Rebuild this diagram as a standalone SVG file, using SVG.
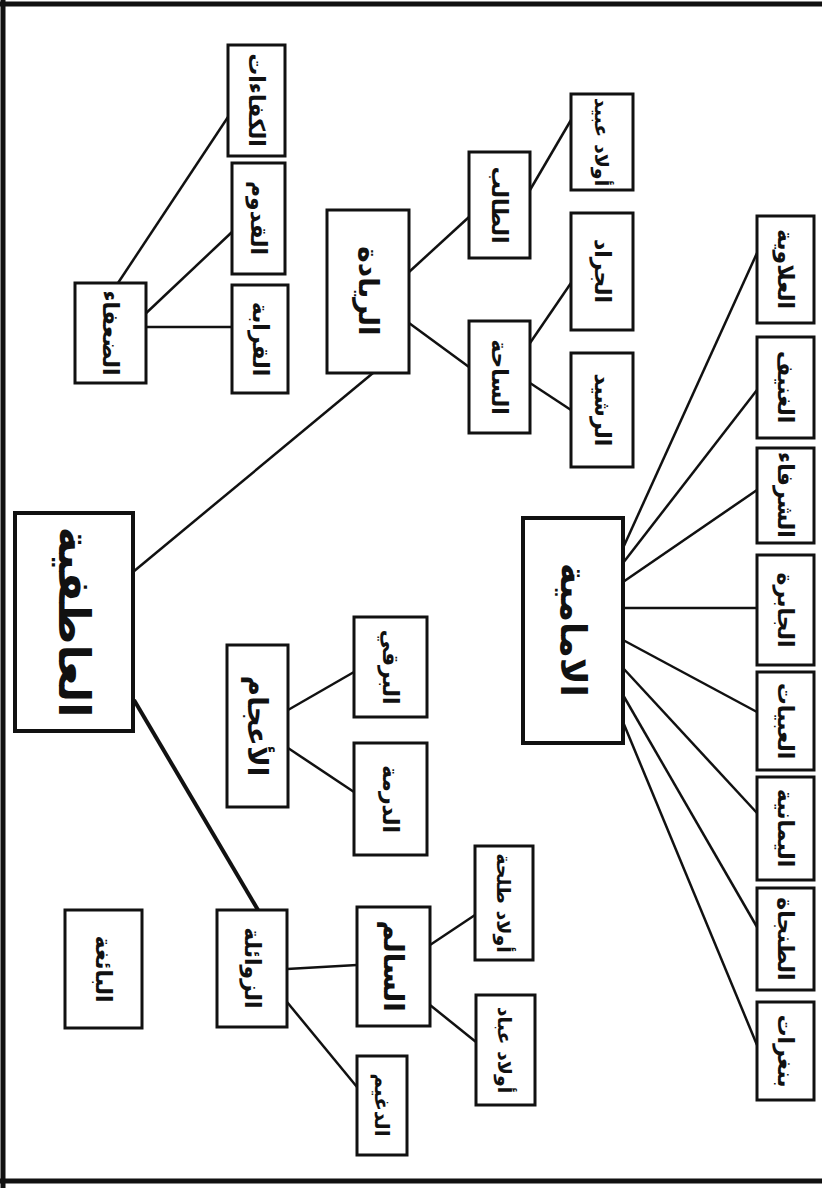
<svg xmlns="http://www.w3.org/2000/svg" width="822" height="1188" viewBox="0 0 822 1188">
<style>
.box{fill:#fff;stroke:#111;stroke-width:3}
.main{fill:#fff;stroke:#111;stroke-width:4}
.t{font-family:"DejaVu Sans",sans-serif;font-weight:bold;fill:#111;text-anchor:middle;dominant-baseline:central;font-size:22px}
.tm{font-size:44px}
.tb{font-size:28px}
#connectors line{stroke:#111;stroke-width:2.5}
.frame{stroke:#111;stroke-width:5;fill:none}
</style>
<rect width="822" height="1188" fill="#fff"/>
<g id="frame">
<line class="frame" x1="0" y1="4" x2="822" y2="4"/>
<line class="frame" x1="3" y1="0" x2="3" y2="1188"/>
<line class="frame" x1="0" y1="1181" x2="822" y2="1181"/>
</g>
<g id="connectors">
<line x1="133" y1="572" x2="373" y2="373"/>
<line x1="134" y1="700" x2="258" y2="910" style="stroke-width:4"/>
<line x1="409" y1="272" x2="469" y2="217"/>
<line x1="409" y1="323" x2="469" y2="367"/>
<line x1="530" y1="190" x2="571" y2="120"/>
<line x1="530" y1="343" x2="571" y2="283"/>
<line x1="530" y1="383" x2="571" y2="410"/>
<line x1="118" y1="283" x2="228" y2="117"/>
<line x1="142" y1="317" x2="232" y2="232"/>
<line x1="146" y1="327" x2="232" y2="327"/>
<line x1="288" y1="710" x2="354" y2="672"/>
<line x1="288" y1="748" x2="354" y2="792"/>
<line x1="287" y1="969" x2="357" y2="965"/>
<line x1="287" y1="1002" x2="357" y2="1087"/>
<line x1="430" y1="945" x2="475" y2="915"/>
<line x1="430" y1="1005" x2="476" y2="1042"/>
<line x1="623" y1="548" x2="757" y2="253"/>
<line x1="623" y1="563" x2="757" y2="390"/>
<line x1="623" y1="582" x2="757" y2="490"/>
<line x1="623" y1="608" x2="757" y2="608"/>
<line x1="623" y1="640" x2="757" y2="712"/>
<line x1="623" y1="668" x2="757" y2="813"/>
<line x1="623" y1="695" x2="757" y2="927"/>
<line x1="623" y1="722" x2="757" y2="1045"/>
</g>
<g id="n-main"><rect class="main" x="15" y="513" width="118" height="218"/><text class="t tm" transform="translate(74,622) rotate(90)">العاطفية</text></g>
<g id="n-riyada"><rect class="box" x="327" y="210" width="82" height="163"/><text class="t tb" transform="translate(368,291) rotate(90)">الريادة</text></g>
<g id="n-talib"><rect class="box" x="469" y="152" width="61" height="106"/><text class="t" transform="translate(499,205) rotate(90)">الطالب</text></g>
<g id="n-saha"><rect class="box" x="469" y="321" width="61" height="112"/><text class="t" transform="translate(499,377) rotate(90)">الساحة</text></g>
<g id="n-awlad-ubaid"><rect class="box" x="571" y="94" width="62" height="96"/><text class="t" style="font-size:19px" transform="translate(602,142) rotate(90)">أولاد عبيد</text></g>
<g id="n-jarad"><rect class="box" x="571" y="213" width="62" height="117"/><text class="t" transform="translate(602,271) rotate(90)">الجراد</text></g>
<g id="n-rashid"><rect class="box" x="571" y="353" width="62" height="114"/><text class="t" transform="translate(602,410) rotate(90)">الرشيد</text></g>
<g id="n-duafa"><rect class="box" x="75" y="283" width="71" height="100"/><text class="t" transform="translate(110,333) rotate(90)">الضعفاء</text></g>
<g id="n-kafaat"><rect class="box" x="228" y="45" width="57" height="111"/><text class="t" transform="translate(256,100) rotate(90)">الكفاءات</text></g>
<g id="n-qudum"><rect class="box" x="232" y="163" width="53" height="111"/><text class="t" transform="translate(258,218) rotate(90)">القدوم</text></g>
<g id="n-qaraba"><rect class="box" x="232" y="285" width="56" height="108"/><text class="t" transform="translate(260,339) rotate(90)">القرابة</text></g>
<g id="n-aajam"><rect class="box" x="227" y="645" width="61" height="162"/><text class="t tb" transform="translate(257,726) rotate(90)">الأعجام</text></g>
<g id="n-barqi"><rect class="box" x="354" y="617" width="73" height="100"/><text class="t" transform="translate(390,667) rotate(90)">البرقي</text></g>
<g id="n-darma"><rect class="box" x="354" y="743" width="73" height="112"/><text class="t" transform="translate(390,799) rotate(90)">الدرمة</text></g>
<g id="n-baigha"><rect class="box" x="65" y="910" width="77" height="118"/><text class="t" transform="translate(103,969) rotate(90)">البائغة</text></g>
<g id="n-zawaila"><rect class="box" x="217" y="910" width="70" height="117"/><text class="t" transform="translate(252,968) rotate(90)">الزوائلة</text></g>
<g id="n-salim"><rect class="box" x="357" y="907" width="73" height="119"/><text class="t tb" transform="translate(393,966) rotate(90)">السالم</text></g>
<g id="n-dughaim"><rect class="box" x="357" y="1056" width="50" height="99"/><text class="t" style="font-size:20px" transform="translate(382,1105) rotate(90)">الدغيم</text></g>
<g id="n-awlad-talha"><rect class="box" x="475" y="846" width="58" height="114"/><text class="t" style="font-size:19px" transform="translate(504,903) rotate(90)">أولاد طلحة</text></g>
<g id="n-awlad-abbad"><rect class="box" x="476" y="995" width="59" height="110"/><text class="t" style="font-size:19px" transform="translate(505,1050) rotate(90)">أولاد عباد</text></g>
<g id="n-imamiya"><rect class="main" x="523" y="518" width="100" height="225"/><text class="t" style="font-size:36px" transform="translate(573,630) rotate(90)">الامامية</text></g>
<g id="n-r1"><rect class="box" x="757" y="216" width="57" height="107"/><text class="t" transform="translate(785,269) rotate(90)">العلاوية</text></g>
<g id="n-r2"><rect class="box" x="757" y="337" width="57" height="101"/><text class="t" transform="translate(785,387) rotate(90)">الغنيف</text></g>
<g id="n-r3"><rect class="box" x="757" y="448" width="57" height="95"/><text class="t" transform="translate(785,495) rotate(90)">الشرفاء</text></g>
<g id="n-r4"><rect class="box" x="757" y="555" width="57" height="110"/><text class="t" transform="translate(785,610) rotate(90)">الجابرة</text></g>
<g id="n-r5"><rect class="box" x="757" y="672" width="57" height="98"/><text class="t" transform="translate(785,721) rotate(90)">العبيات</text></g>
<g id="n-r6"><rect class="box" x="757" y="777" width="57" height="103"/><text class="t" transform="translate(785,828) rotate(90)">اليمانية</text></g>
<g id="n-r7"><rect class="box" x="757" y="888" width="57" height="102"/><text class="t" transform="translate(785,939) rotate(90)">الطنجاة</text></g>
<g id="n-r8"><rect class="box" x="757" y="1002" width="57" height="98"/><text class="t" transform="translate(785,1051) rotate(90)">بنغرات</text></g>
</svg>
